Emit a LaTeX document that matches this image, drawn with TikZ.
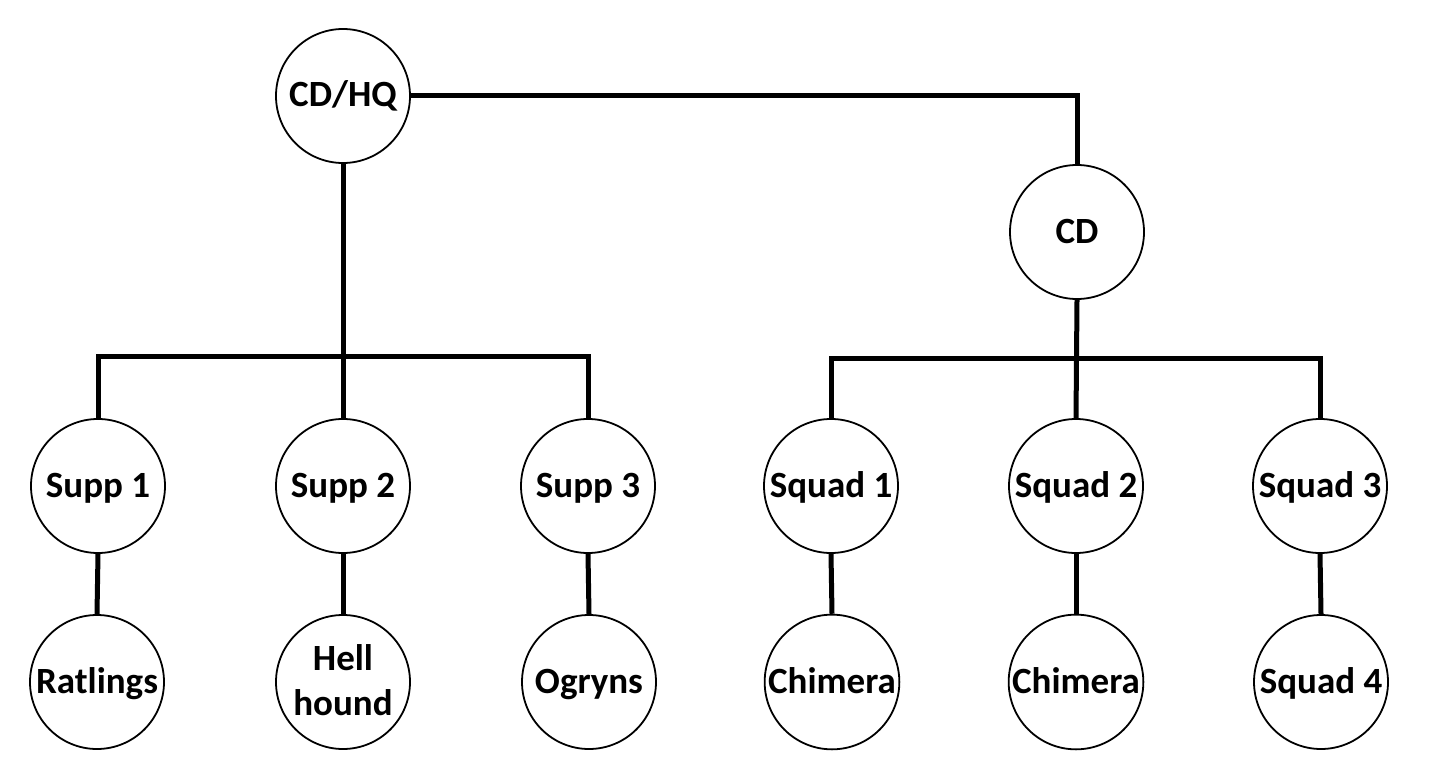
\documentclass[tikz,border=0pt]{standalone}
\usepackage{fontspec}
\setmainfont{Carlito}
\newcommand{\tstrut}{\rule[-11pt]{0pt}{44pt}}
\begin{document}
\begin{tikzpicture}[x=1pt,y=-1pt,
  unit/.style={circle,draw=black,line width=1.8pt,minimum size=134pt,inner sep=0pt,
    font=\bfseries\fontsize{37}{43}\selectfont,align=center},
  link/.style={line width=5pt,line join=miter}]
\useasboundingbox (0,0) rectangle (1431,778);
\node[unit] (hq) at (343,96) {\tstrut CD/HQ};
\node[unit] (cd) at (1077,232) {\tstrut CD};
\node[unit] (s1) at (98,486) {\tstrut Supp 1};
\node[unit] (s2) at (343,486) {\tstrut Supp 2};
\node[unit] (s3) at (588,486) {\tstrut Supp 3};
\node[unit] (q1) at (831,486) {\tstrut Squad 1};
\node[unit] (q2) at (1076,486) {\tstrut Squad 2};
\node[unit] (q3) at (1320,486) {\tstrut Squad 3};
\node[unit] (r1) at (97,682) {\tstrut Ratlings};
\node[unit] (r2) at (343,682) {\tstrut Hell\\\tstrut hound};
\node[unit] (r3) at (589,682) {\tstrut Ogryns};
\node[unit] (c1) at (832,682) {\tstrut Chimera};
\node[unit] (c2) at (1076,682) {\tstrut Chimera};
\node[unit] (c3) at (1321,682) {\tstrut Squad 4};
\coordinate (busL) at (343,356);
\coordinate (busR) at (1077,358);
\draw[link] (hq.east) -| (cd.north);
\draw[link] (hq.south) -- (s2.north);
\draw[link] (s1.north) |- (busL) -| (s3.north);
\draw[link] (cd.south) -- (q2.north);
\draw[link] (q1.north) |- (busR) -| (q3.north);
\draw[link] (s1.south) -- (r1.north);
\draw[link] (s2.south) -- (r2.north);
\draw[link] (s3.south) -- (r3.north);
\draw[link] (q1.south) -- (c1.north);
\draw[link] (q2.south) -- (c2.north);
\draw[link] (q3.south) -- (c3.north);
\end{tikzpicture}
\end{document}
